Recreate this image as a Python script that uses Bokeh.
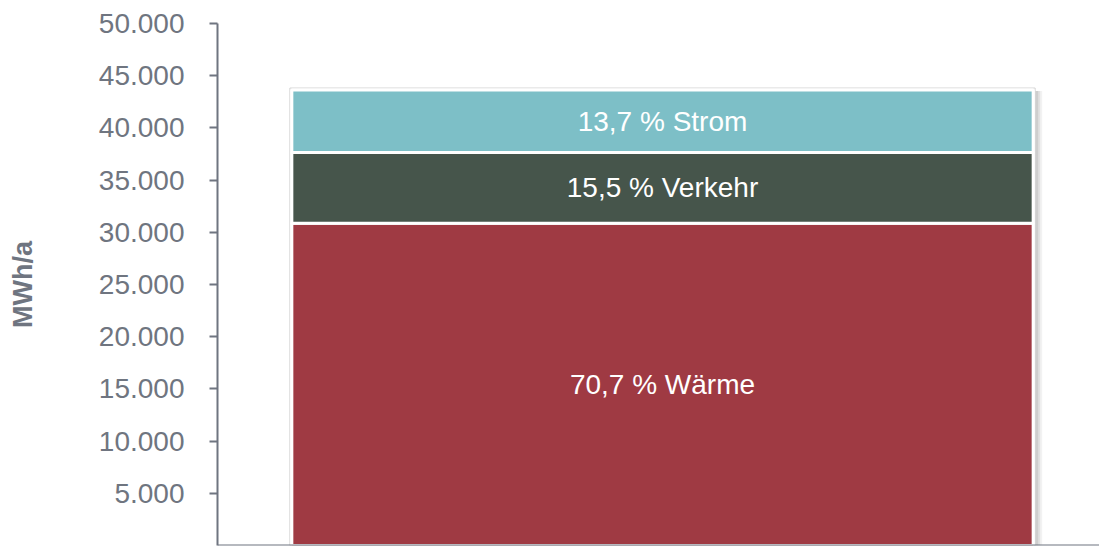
from bokeh.plotting import figure
from bokeh.models import (FactorRange, Range1d, FixedTicker, ColumnDataSource,
                          Span)
from bokeh.transform import dodge
from bokeh.core.properties import value
from bokeh.embed import file_html
from bokeh.resources import INLINE

# ---- data ----
category = ["Gesamt"]
names = ["Wärme", "Verkehr", "Strom"]
values = [30870, 6770, 5990]
shares = ["70,7", "15,5", "13,7"]
colors = ["#9f3a43", "#46554b", "#7dbfc7"]
tick_values = [5000, 10000, 15000, 20000, 25000, 30000, 35000, 40000, 45000, 50000]
tick_labels = ["5.000", "10.000", "15.000", "20.000", "25.000",
               "30.000", "35.000", "40.000", "45.000", "50.000"]

GRAY = "#6f7580"
FONT = "Liberation Sans"

W, H = 1099, 546
LEFT, TOP, BOTTOM = 217, 23, 1
FRAME_H = H - TOP - BOTTOM
FRAME_W = W - LEFT
SHIFT = 4 / FRAME_W  # small offset of the bar to the right of centre

p = figure(width=W, height=H,
           x_range=FactorRange(factors=category),
           y_range=Range1d(0, 50000),
           output_backend="svg", toolbar_location=None,
           min_border_left=LEFT, min_border_right=0,
           min_border_top=TOP, min_border_bottom=BOTTOM)
p.outline_line_color = None
p.grid.visible = False
p.background_fill_color = "white"

# stacked data
bottoms, tops = [], []
acc = 0
for v in values:
    bottoms.append(acc)
    acc += v
    tops.append(acc)
total = acc
px = 50000 / FRAME_H  # data units per pixel

# shadow on the right
for off, a in [(7, 0.10), (5, 0.14), (3, 0.20)]:
    p.vbar(x=dodge("x", SHIFT + off / FRAME_W, range=p.x_range), top="top", width=0.845,
           source=ColumnDataSource(dict(x=category, top=[total - 1 * px])),
           fill_color="#808080", fill_alpha=a, line_color=None)

# outer frame of the bar
p.vbar(x=dodge("x", SHIFT, range=p.x_range), top="top", width=0.845,
       source=ColumnDataSource(dict(x=category, top=[total + 2 * px])),
       fill_color="white", line_color="#d4d4d4", line_width=1)

src = ColumnDataSource(dict(
    x=category * len(values), bottom=bottoms, top=tops, color=colors,
    label=[f"{s} % {n}" for s, n in zip(shares, names)],
    mid=[(b + t) / 2 for b, t in zip(bottoms, tops)],
))
p.vbar(x=dodge("x", SHIFT, range=p.x_range), bottom="bottom", top="top",
       width=0.8405, source=src,
       fill_color="color", line_color="white", line_width=3)
p.text(x=dodge("x", SHIFT, range=p.x_range), y="mid", text="label", source=src,
       text_color="white", text_font=value(FONT), text_font_size="28px",
       text_align="center", text_baseline="middle")

# y axis
ya = p.yaxis[0]
ya.ticker = FixedTicker(ticks=tick_values)
ya.major_label_overrides = {v: l for v, l in zip(tick_values, tick_labels)}
ya.major_label_text_font = FONT
ya.major_label_text_font_size = "28px"
ya.major_label_text_color = GRAY
ya.major_tick_out = 8
ya.major_tick_in = 0
ya.minor_tick_out = 0
ya.minor_tick_in = 0
ya.major_tick_line_color = GRAY
ya.major_tick_line_width = 2
ya.axis_line_color = GRAY
ya.axis_line_width = 2
ya.major_label_standoff = 25
ya.axis_label = "MWh/a"
ya.axis_label_text_font = FONT
ya.axis_label_text_font_size = "27px"
ya.axis_label_text_font_style = "bold"
ya.axis_label_text_color = GRAY
ya.axis_label_standoff = 58

# x axis: only the base line, no ticks or labels
p.xaxis.visible = False
p.add_layout(Span(location=0, dimension="width",
                  line_color=GRAY, line_width=2))

open("out.html", "w").write(file_html(p, INLINE))
